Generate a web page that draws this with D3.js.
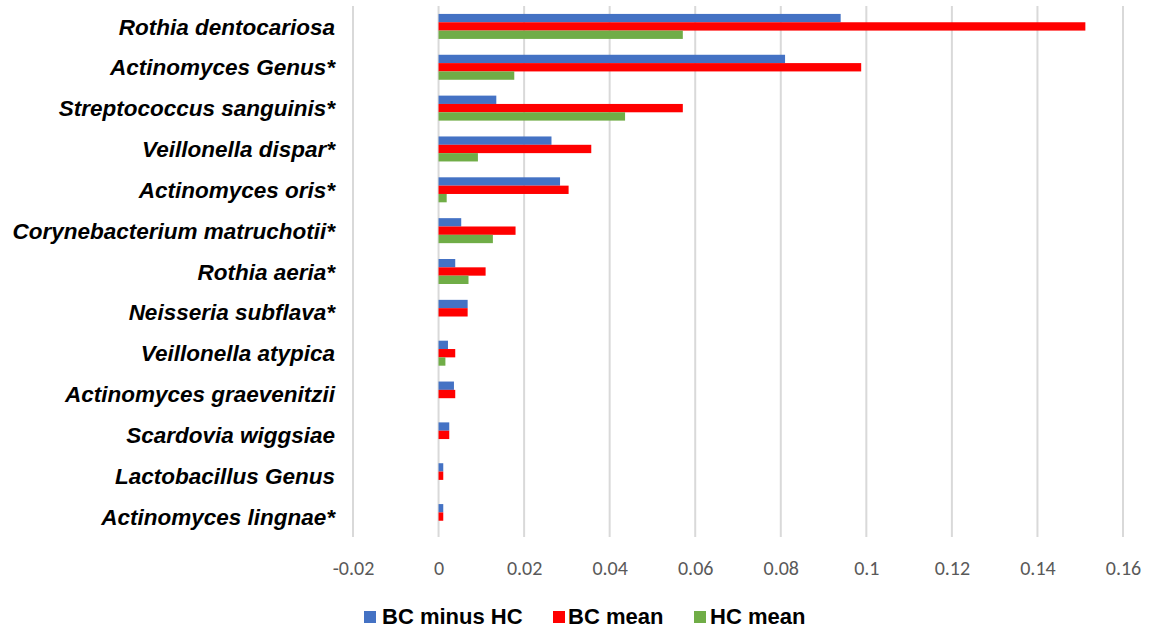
<!DOCTYPE html>
<html>
<head>
<meta charset="utf-8">
<script src="https://cdn.jsdelivr.net/npm/d3@7"></script>
<style>
  html, body { margin: 0; padding: 0; background: #fff; }
  svg { display: block; }
</style>
</head>
<body>
<svg id="chart" width="1152" height="631"></svg>
<script>
const categories = [
  "Rothia dentocariosa",
  "Actinomyces Genus*",
  "Streptococcus sanguinis*",
  "Veillonella dispar*",
  "Actinomyces oris*",
  "Corynebacterium matruchotii*",
  "Rothia aeria*",
  "Neisseria subflava*",
  "Veillonella atypica",
  "Actinomyces graevenitzii",
  "Scardovia wiggsiae",
  "Lactobacillus Genus",
  "Actinomyces lingnae*"
];
const seriesNames = ["BC minus HC", "BC mean", "HC mean"];
const seriesColors = ["#4472c4", "#ff0000", "#70ad47"];
const bcMinusHc = [0.0940, 0.0810, 0.0135, 0.0264, 0.0284, 0.0053, 0.0039, 0.0068, 0.0022, 0.0036, 0.0025, 0.0011, 0.0011];
const bcMean    = [0.1512, 0.0988, 0.0571, 0.0357, 0.0304, 0.0180, 0.0110, 0.0068, 0.0039, 0.0039, 0.0025, 0.0011, 0.0011];
const hcMean    = [0.0571, 0.0177, 0.0436, 0.0092, 0.0019, 0.0127, 0.0070, 0.0000, 0.0016, 0.0000, 0.0000, 0.0000, 0.0000];
const tickValues = [-0.02, 0, 0.02, 0.04, 0.06, 0.08, 0.1, 0.12, 0.14, 0.16];
const tickLabels = ["-0.02", "0", "0.02", "0.04", "0.06", "0.08", "0.1", "0.12", "0.14", "0.16"];

const seriesValues = [bcMinusHc, bcMean, hcMean];

const svg = d3.select("#chart");

const x = d3.scaleLinear().domain([-0.02, 0.16]).range([353, 1123]);
const y = d3.scaleBand().domain(categories).range([6, 537]).paddingInner(0.388).paddingOuter(0.194);
const ySub = d3.scaleBand().domain(seriesNames).range([0, y.bandwidth()]);

// gridlines
svg.append("g")
  .selectAll("line")
  .data(tickValues)
  .join("line")
  .attr("x1", d => x(d)).attr("x2", d => x(d))
  .attr("y1", 6).attr("y2", 537)
  .attr("stroke", "#d9d9d9")
  .attr("stroke-width", 2);

// bars
const groups = svg.append("g")
  .selectAll("g")
  .data(categories)
  .join("g")
  .attr("transform", d => `translate(0,${y(d)})`);

groups.selectAll("rect")
  .data((d, i) => seriesNames.map((s, j) => ({ s, j, v: seriesValues[j][i] })))
  .join("rect")
  .attr("x", d => Math.min(x(0), x(d.v)))
  .attr("y", d => ySub(d.s))
  .attr("width", d => Math.abs(x(d.v) - x(0)))
  .attr("height", ySub.bandwidth())
  .attr("fill", d => seriesColors[d.j]);

// category labels
svg.append("g")
  .selectAll("text")
  .data(categories)
  .join("text")
  .attr("x", 335)
  .attr("y", d => y(d) + y.bandwidth() / 2)
  .attr("dy", "0.36em")
  .attr("text-anchor", "end")
  .attr("font-family", "Liberation Sans, Arial, sans-serif")
  .attr("font-size", "22.5px")
  .attr("font-weight", "bold")
  .attr("font-style", "italic")
  .attr("fill", "#000")
  .text(d => d);

// x axis labels
const xAxis = d3.axisBottom(x)
  .tickValues(tickValues)
  .tickFormat((d, i) => tickLabels[i])
  .tickSize(0)
  .tickPadding(0);
const axisG = svg.append("g")
  .attr("transform", "translate(0,561)")
  .call(xAxis);
axisG.select(".domain").remove();
axisG.selectAll("text")
  .attr("font-family", "Carlito, Calibri, Lato, sans-serif")
  .attr("font-size", "20px")
  .attr("fill", "#595959")
  .attr("dy", "0.7em");

// legend
const legendItems = [
  { name: seriesNames[0], color: seriesColors[0], sx: 364, tx: 382 },
  { name: seriesNames[1], color: seriesColors[1], sx: 553, tx: 568 },
  { name: seriesNames[2], color: seriesColors[2], sx: 694, tx: 710 }
];
const lg = svg.append("g");
lg.selectAll("rect")
  .data(legendItems)
  .join("rect")
  .attr("x", d => d.sx).attr("y", 611)
  .attr("width", 12).attr("height", 12)
  .attr("fill", d => d.color);
lg.selectAll("text")
  .data(legendItems)
  .join("text")
  .attr("x", d => d.tx).attr("y", 624)
  .attr("font-family", "Liberation Sans, Arial, sans-serif")
  .attr("font-size", "22px")
  .attr("font-weight", "bold")
  .attr("fill", "#000")
  .text(d => d.name);
</script>
</body>
</html>
